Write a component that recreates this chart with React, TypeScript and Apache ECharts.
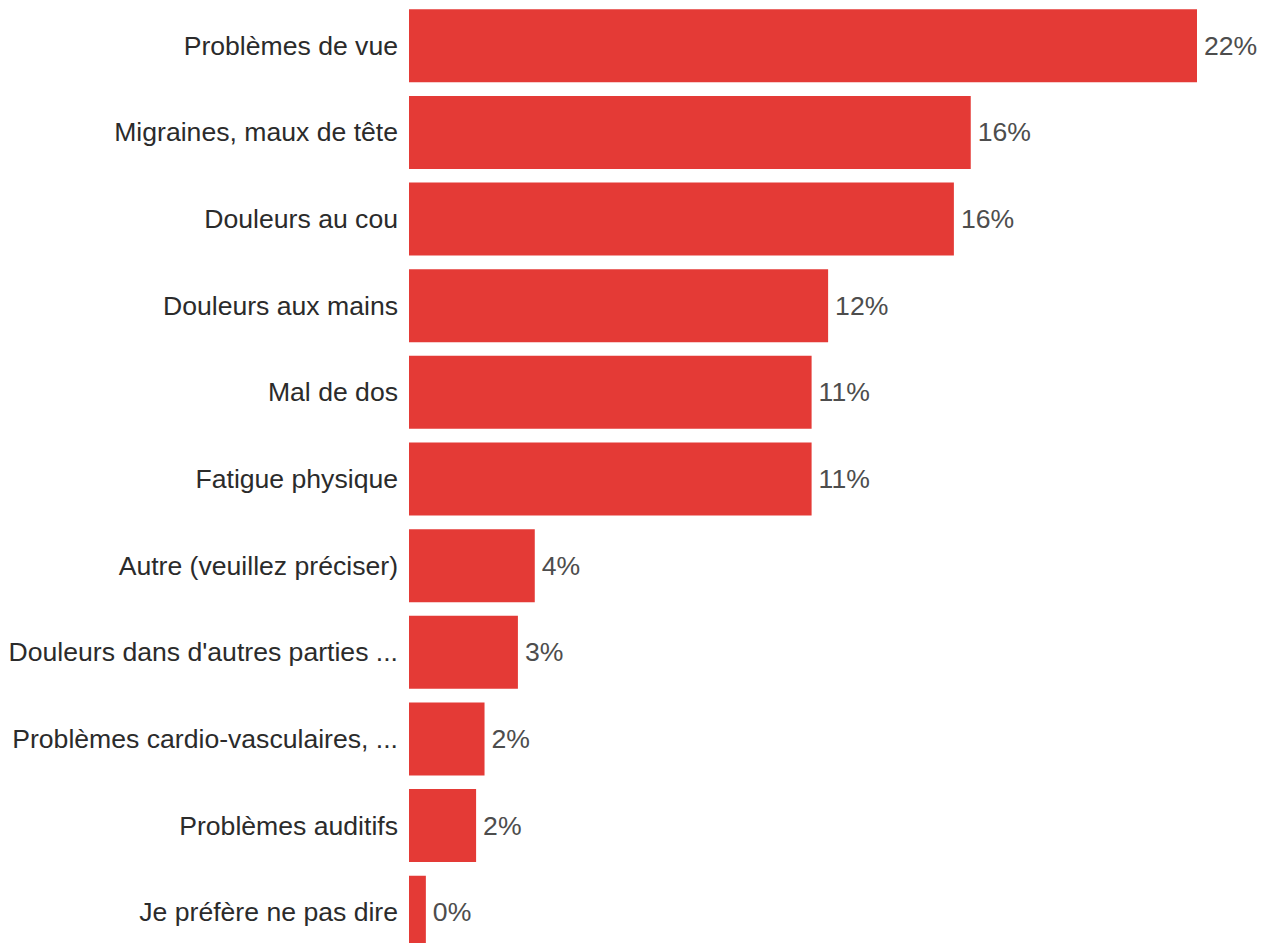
import React, { useEffect, useRef } from "react";
import * as echarts from "echarts";

const categories = [
  "Problèmes de vue",
  "Migraines, maux de tête",
  "Douleurs au cou",
  "Douleurs aux mains",
  "Mal de dos",
  "Fatigue physique",
  "Autre (veuillez préciser)",
  "Douleurs dans d'autres parties ...",
  "Problèmes cardio-vasculaires, ...",
  "Problèmes auditifs",
  "Je préfère ne pas dire",
];

const values = [22.43, 15.99, 15.51, 11.93, 11.46, 11.46, 3.58, 3.1, 2.15, 1.91, 0.48];

const valueLabels = ["22%", "16%", "16%", "12%", "11%", "11%", "4%", "3%", "2%", "2%", "0%"];

export default function App() {
  const ref = useRef<HTMLDivElement>(null);
  useEffect(() => {
    if (!ref.current) return;
    const chart = echarts.init(ref.current, undefined, { renderer: "svg" });
    chart.setOption({
      animation: false,
      grid: { left: 409, width: 788, top: 2.5, height: 953, containLabel: false },
      xAxis: {
        type: "value",
        min: 0,
        max: values[0],
        show: false,
      },
      yAxis: {
        type: "category",
        inverse: true,
        data: categories,
        axisLine: { show: false },
        axisTick: { show: false },
        splitLine: { show: false },
        axisLabel: {
          margin: 11,
          fontFamily: "Liberation Sans, Arial, sans-serif",
          fontSize: 26.6,
          color: "#2b2b2b",
        },
      },
      series: [
        {
          type: "bar",
          data: values,
          barWidth: 73,
          itemStyle: { color: "#e43a36" },
          label: {
            show: true,
            position: "right",
            distance: 7,
            fontFamily: "Liberation Sans, Arial, sans-serif",
            fontSize: 26.6,
            color: "#4d4d4d",
            formatter: (p: any) => valueLabels[p.dataIndex],
          },
        },
      ],
    });
    return () => chart.dispose();
  }, []);
  return (
    <div
      style={{ position: "absolute", left: 0, top: 0, width: 1267, height: 943, overflow: "hidden", background: "#fff" }}
    >
      <div ref={ref} style={{ width: 1267, height: 960 }} />
    </div>
  );
}
